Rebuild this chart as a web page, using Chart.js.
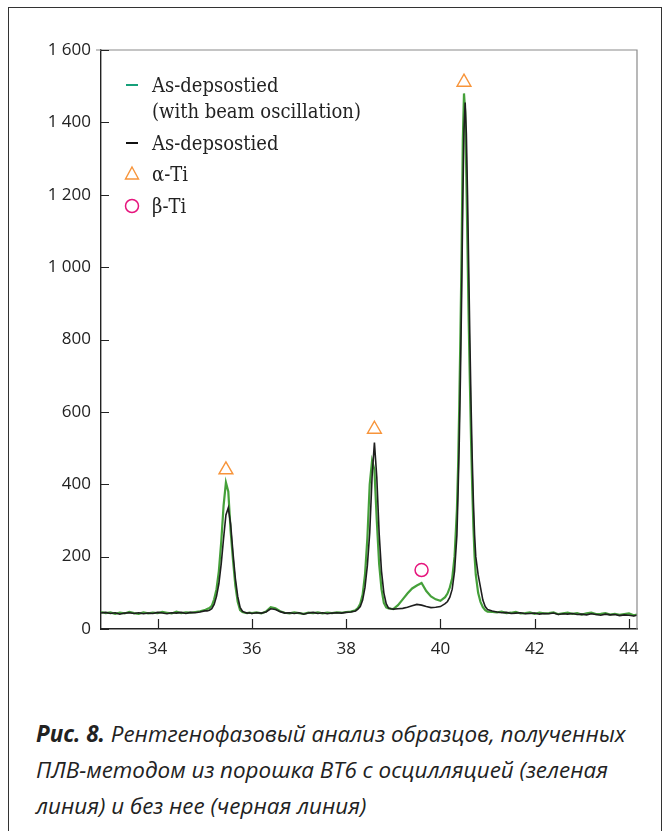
<!DOCTYPE html>
<html>

<head>
    <meta charset="utf-8">
    <script src="https://cdn.jsdelivr.net/npm/chart.js@4.4.0/dist/chart.umd.min.js"></script>
    <style>
        body { margin: 0; background: #fff; }
        #frame { position: absolute; left: 8px; top: 7px; width: 654px; height: 840px; border: 1px solid #333; box-sizing: border-box; }
        #myChart { position: absolute; left: 0; top: 0; }
        .row { position: absolute; left: 120px; padding-left: 32px; font-family: "DejaVu Serif", serif; font-stretch: condensed; font-size: 20px; line-height: 26px; color: #222; white-space: nowrap; }
        .mark { position: absolute; left: 0; top: 0; width: 26px; height: 26px; }
        #caption { position: absolute; left: 36px; top: 716px; width: 630px; font-family: "Open Sans", sans-serif; font-style: italic; font-size: 22.4px; line-height: 36px; color: #222; white-space: nowrap; }
    </style>
</head>

<body>
    <div id="frame"></div>
    <canvas id="myChart" width="671" height="680"></canvas>
    <div class="row" style="top:72px">
        <svg class="mark"><line x1="6" y1="13" x2="18" y2="13" stroke="#16a07a" stroke-width="2"/></svg>As-depsostied<br>(with beam oscillation)
    </div>
    <div class="row" style="top:130px">
        <svg class="mark"><line x1="6" y1="13" x2="18" y2="13" stroke="#111" stroke-width="2"/></svg>As-depsostied
    </div>
    <div class="row" style="top:161px">
        <svg class="mark"><polygon points="12,6 18.5,18 5.5,18" fill="none" stroke="#f7943a" stroke-width="1.4"/></svg>α-Ti
    </div>
    <div class="row" style="top:193px">
        <svg class="mark"><circle cx="12" cy="13" r="6.5" fill="none" stroke="#e6157d" stroke-width="1.5"/></svg>β-Ti
    </div>
    <div id="caption"><b>Рис. 8.</b> Рентгенофазовый анализ образцов, полученных<br>ПЛВ-методом из порошка ВТ6 с осцилляцией (зеленая<br>линия) и без нее (черная линия)</div>
    <script>
        // 2-theta positions, degrees
        const twoTheta = [
            32.8, 32.9, 33.0, 33.1, 33.2, 33.3, 33.4, 33.5, 33.6, 33.7, 33.8, 33.9, 34.0, 34.1, 34.2, 34.3, 34.4, 34.5, 34.6, 34.7, 34.8, 34.9, 35.0,
            35.05, 35.1, 35.15, 35.2, 35.25, 35.3, 35.35, 35.4, 35.45, 35.5, 35.55, 35.6, 35.65, 35.7, 35.75, 35.8, 35.85, 35.9, 35.95,
            36.0, 36.1, 36.2, 36.3, 36.4, 36.5, 36.6, 36.7, 36.8, 36.9, 37.0, 37.1, 37.2, 37.3, 37.4, 37.5, 37.6, 37.7, 37.8, 37.9, 38.0, 38.1, 38.2,
            38.25, 38.3, 38.35, 38.4, 38.45, 38.5, 38.55, 38.6, 38.65, 38.7, 38.75, 38.8, 38.85, 38.9, 38.95, 39.0,
            39.1, 39.2, 39.3, 39.4, 39.5, 39.6, 39.7, 39.8, 39.9, 40.0, 40.1,
            40.15, 40.2, 40.25, 40.3, 40.35,
            40.375, 40.4, 40.425, 40.45, 40.475, 40.5, 40.525, 40.55, 40.575, 40.6, 40.625, 40.65, 40.675, 40.7, 40.725, 40.75,
            40.8, 40.85, 40.9, 40.95, 41.0,
            41.1, 41.2, 41.3, 41.4, 41.5, 41.6, 41.7, 41.8, 41.9, 42.0, 42.1, 42.2, 42.3, 42.4, 42.5, 42.6, 42.7, 42.8, 42.9, 43.0,
            43.1, 43.2, 43.3, 43.4, 43.5, 43.6, 43.7, 43.8, 43.9, 44.0, 44.1, 44.17
        ];
        // with beam oscillation (green)
        const greenCounts = [
            47, 44, 46, 42, 45, 43, 47, 44, 42, 46, 43, 45, 44, 47, 45, 43, 48, 44, 46, 45, 47, 49, 52,
            55, 58, 64, 82, 110, 160, 240, 340, 405, 380, 270, 190, 120, 75, 52, 47, 45, 44, 45,
            44, 46, 43, 48, 60, 57, 49, 45, 43, 46, 44, 42, 45, 44, 46, 43, 45, 44, 46, 45, 47, 48, 52,
            58, 70, 95, 150, 250, 400, 465, 440, 300, 180, 110, 72, 60, 57, 56, 55,
            66, 82, 98, 112, 120, 127, 105, 90, 82, 78, 88,
            98, 115, 140, 200, 330,
            450, 620, 820, 1050, 1350, 1480, 1430, 1250, 1050, 850, 680, 520, 390, 280, 200, 150,
            100, 75, 60, 52, 48,
            47, 46, 48, 44, 45, 47, 43, 44, 46, 42, 45, 43, 44, 46, 41, 43, 45, 42, 44, 40,
            43, 45, 41, 42, 44, 40, 42, 39, 41, 43, 38, 40
        ];
        // without oscillation (black)
        const blackCounts = [
            44, 46, 43, 45, 41, 44, 45, 43, 45, 42, 44, 43, 46, 44, 42, 45, 44, 46, 43, 46, 45, 47, 50,
            50, 52, 56, 68, 90, 125, 180, 250, 315, 335, 290, 210, 140, 90, 60, 49, 46, 44, 45,
            43, 45, 44, 47, 56, 54, 48, 44, 45, 43, 45, 41, 44, 46, 43, 45, 42, 44, 45, 44, 46, 47, 50,
            55, 62, 80, 115, 175, 265, 420, 515, 420, 265, 160, 100, 70, 58, 56, 55,
            56, 57, 60, 64, 68, 66, 62, 59, 60, 62, 70,
            76, 88, 110, 160, 260,
            380, 520, 700, 920, 1180, 1380, 1455, 1370, 1200, 1000, 800, 620, 470, 350, 260, 200,
            150, 115, 80, 62, 54,
            50, 47, 45, 46, 43, 44, 45, 42, 43, 44, 41, 43, 42, 44, 40, 42, 41, 43, 40, 41,
            39, 42, 40, 38, 41, 39, 40, 37, 39, 38, 36, 38
        ];
        // phase markers
        const alphaX = [35.45, 38.6, 40.5];
        const alphaY = [440, 552, 1511];
        const betaX = [39.6];
        const betaY = [163];

        const xTicks = [34, 36, 38, 40, 42, 44];
        const yTicks = [0, 200, 400, 600, 800, 1000, 1200, 1400, 1600];

        const toPoints = (xs, ys) => xs.map((x, i) => ({ x: x, y: ys[i] }));

        // inward tick marks and grey frame on top/right
        const frameTicks = {
            id: 'frameTicks',
            afterDraw(chart) {
                const ctx = chart.ctx;
                const a = chart.chartArea;
                const xs = chart.scales.x, ys = chart.scales.y;
                ctx.save();
                ctx.strokeStyle = '#8a8a8a';
                ctx.lineWidth = 1.2;
                ctx.beginPath();
                ctx.moveTo(a.left - 5, a.top);
                ctx.lineTo(a.right, a.top);
                ctx.lineTo(a.right, a.bottom);
                ctx.stroke();
                ctx.strokeStyle = '#222';
                ctx.lineWidth = 1.2;
                ctx.beginPath();
                xTicks.forEach(t => {
                    const px = Math.round(xs.getPixelForValue(t)) + 0.5;
                    ctx.moveTo(px, a.bottom);
                    ctx.lineTo(px, a.bottom - 10);
                });
                yTicks.forEach(t => {
                    const py = Math.round(ys.getPixelForValue(t)) + 0.5;
                    ctx.moveTo(a.left, py);
                    ctx.lineTo(a.left + 8, py);
                });
                ctx.stroke();
                ctx.restore();
            }
        };

        new Chart(document.getElementById('myChart'), {
            type: 'line',
            data: {
                datasets: [{
                    label: 'As-depsostied (with beam oscillation)',
                    data: toPoints(twoTheta, greenCounts),
                    borderColor: '#45a03a',
                    borderWidth: 2.2,
                    pointRadius: 0,
                    tension: 0,
                    order: 2
                }, {
                    label: 'As-depsostied',
                    data: toPoints(twoTheta, blackCounts),
                    borderColor: '#1e1e1e',
                    borderWidth: 1.6,
                    pointRadius: 0,
                    tension: 0,
                    order: 1
                }, {
                    label: 'α-Ti',
                    data: toPoints(alphaX, alphaY),
                    showLine: false,
                    pointStyle: 'triangle',
                    pointRadius: 8,
                    pointBorderColor: '#f7943a',
                    pointBackgroundColor: 'rgba(0,0,0,0)',
                    pointBorderWidth: 1.4,
                    order: 0
                }, {
                    label: 'β-Ti',
                    data: toPoints(betaX, betaY),
                    showLine: false,
                    pointStyle: 'circle',
                    pointRadius: 6.5,
                    pointBorderColor: '#e6157d',
                    pointBackgroundColor: 'rgba(0,0,0,0)',
                    pointBorderWidth: 1.5,
                    order: 0
                }]
            },
            options: {
                responsive: false,
                animation: false,
                layout: { padding: { left: 41, top: 50, right: 34, bottom: 13 } },
                plugins: {
                    legend: { display: false },
                    tooltip: { enabled: false }
                },
                scales: {
                    x: {
                        type: 'linear',
                        min: 32.8,
                        max: 44.17,
                        grid: { display: false },
                        border: { display: true, color: '#222', width: 1.4 },
                        afterBuildTicks: s => { s.ticks = xTicks.map(v => ({ value: v })); },
                        afterFit: s => { s.height = 38; },
                        ticks: {
                            padding: 2,
                            color: '#222',
                            font: { family: 'Open Sans', size: 17 }
                        }
                    },
                    y: {
                        min: 0,
                        max: 1600,
                        grid: { display: false },
                        border: { display: true, color: '#222', width: 1.4 },
                        afterBuildTicks: s => { s.ticks = yTicks.map(v => ({ value: v })); },
                        afterFit: s => { s.width = 60; },
                        ticks: {
                            padding: 2,
                            color: '#222',
                            font: { family: 'Open Sans', size: 17 },
                            callback: v => String(v).replace(/\B(?=(\d{3})+(?!\d))/g, ' ')
                        }
                    }
                }
            },
            plugins: [frameTicks]
        });
    </script>
</body>

</html>
